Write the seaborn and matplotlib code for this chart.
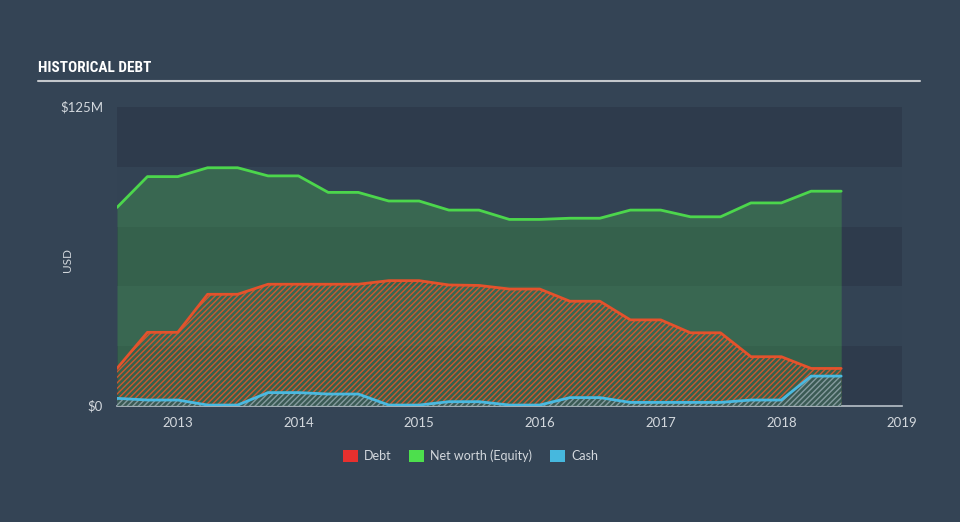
import matplotlib
matplotlib.use("Agg")
import matplotlib.pyplot as plt
from matplotlib.patches import Patch
import seaborn as sns
import pandas as pd

# ---- data (values in $M, quarterly) ----
dates = ["2012-07-01", "2012-10-01", "2013-01-01", "2013-04-01", "2013-07-01",
         "2013-10-01", "2014-01-01", "2014-04-01", "2014-07-01", "2014-10-01",
         "2015-01-01", "2015-04-01", "2015-07-01", "2015-10-01", "2016-01-01",
         "2016-04-01", "2016-07-01", "2016-10-01", "2017-01-01", "2017-04-01",
         "2017-07-01", "2017-10-01", "2018-01-01", "2018-04-01", "2018-07-01"]
debt = [15.7, 30.8, 30.8, 46.7, 46.7, 50.9, 50.9, 50.9, 50.9, 52.4,
        52.4, 50.6, 50.4, 48.9, 48.9, 43.8, 43.8, 36.0, 36.0, 30.6,
        30.6, 20.6, 20.6, 15.7, 15.7]
equity = [83.0, 95.9, 95.9, 99.6, 99.6, 96.2, 96.2, 89.3, 89.3, 85.7,
          85.7, 81.9, 81.9, 78.0, 78.0, 78.5, 78.5, 81.9, 81.9, 79.1,
          79.1, 84.9, 84.9, 89.8, 89.8]
cash = [3.2, 2.5, 2.5, 0.4, 0.4, 5.6, 5.6, 5.0, 5.0, 0.4,
        0.4, 1.8, 1.8, 0.4, 0.4, 3.5, 3.5, 1.5, 1.5, 1.5,
        1.5, 2.5, 2.5, 12.5, 12.5]
series_names = ["Debt", "Net worth (Equity)", "Cash"]
year_ticks = [2013, 2014, 2015, 2016, 2017, 2018, 2019]
y_ticks = [0, 125]
y_tick_labels = ["$0", "$125M"]

df = pd.DataFrame({"date": pd.to_datetime(dates), "Debt": debt,
                   "Equity": equity, "Cash": cash})

BG = "#344455"
DARK = "#2e3b4c"
LIGHT = "#334354"
GREEN = "#4cd64c"
RED = "#e4522c"
BLUE = "#4ab9e0"
TXT = "#d3d8dd"

sns.set_style("dark")
plt.rcParams["font.family"] = ["Lato", "DejaVu Sans"]
plt.rcParams["hatch.linewidth"] = 1.0

fig = plt.figure(figsize=(9.6, 5.22), dpi=100, facecolor=BG)
ax = fig.add_axes([117 / 960, 1 - 406 / 522, (902 - 117) / 960, (406 - 107) / 522])
ax.set_facecolor(DARK)

# alternating bands
for i, (lo, hi) in enumerate([(0, 25), (25, 50), (50, 75), (75, 100), (100, 125)]):
    ax.axhspan(lo, hi, color=DARK if i % 2 == 0 else LIGHT, lw=0, zorder=0)

x = df["date"]
# equity area
ax.fill_between(x, 0, df["Equity"], color=GREEN, alpha=0.25, lw=0, zorder=1)
# debt hatched area
ax.fill_between(x, 0, df["Debt"], facecolor="none", edgecolor="#d4582e", hatch="//////",
                lw=0, alpha=0.95, zorder=2)
# cash hatched area
ax.fill_between(x, 0, df["Cash"], facecolor="#3b5a56", edgecolor="#8aa3a8", hatch="//////",
                lw=0, alpha=0.9, zorder=3)

sns.lineplot(data=df, x="date", y="Equity", ax=ax, color=GREEN, lw=2, zorder=4)
sns.lineplot(data=df, x="date", y="Debt", ax=ax, color=RED, lw=2, zorder=5)
sns.lineplot(data=df, x="date", y="Cash", ax=ax, color=BLUE, lw=2, zorder=6)

ax.set_xlim(pd.Timestamp("2012-07-01"), pd.Timestamp("2019-01-01"))
ax.set_ylim(0, 125)
ax.set_xticks([pd.Timestamp(f"{y}-01-01") for y in year_ticks])
ax.set_xticklabels([str(y) for y in year_ticks])
ax.set_yticks(y_ticks)
ax.set_yticklabels(y_tick_labels)
ax.set_xlabel("")
ax.set_ylabel("")
ax.grid(False)

for s in ["top", "right", "left"]:
    ax.spines[s].set_visible(False)
ax.spines["bottom"].set_color("#b8c0c8")
ax.spines["bottom"].set_linewidth(1.2)
ax.tick_params(axis="x", colors="#b8c0c8", length=7, width=1.2, direction="out",
               labelcolor=TXT, labelsize=9.5, pad=1)
ax.tick_params(axis="y", length=0, labelcolor=TXT, labelsize=9.5, pad=10)
for lbl in ax.get_yticklabels():
    lbl.set_verticalalignment("center")

fig.text(67 / 960, 1 - 260 / 522, "USD", color=TXT, fontsize=8.5, rotation=90,
         ha="center", va="center")

# title and rule
fig.text(38 / 960, 1 - 68 / 522, "HISTORICAL DEBT", color="white", fontsize=11,
         fontweight="bold", family=["Roboto Condensed", "Liberation Sans Narrow", "Roboto", "DejaVu Sans"],
         va="center")
fig.add_artist(plt.Line2D([38 / 960, 920 / 960], [1 - 81 / 522, 1 - 81 / 522],
                          color="#c4c8cc", lw=1.5, transform=fig.transFigure))

handles = [Patch(facecolor="#e8302e", edgecolor="none"),
           Patch(facecolor="#4ddf4d", edgecolor="none"),
           Patch(facecolor="#46b8de", edgecolor="none")]
leg = fig.legend(handles, series_names, loc="center", bbox_to_anchor=(0.49, 1 - 456 / 522),
                 ncol=3, frameon=False, fontsize=9, handlelength=1.2, handleheight=1.0,
                 columnspacing=1.4, handletextpad=0.5)
for t in leg.get_texts():
    t.set_color(TXT)

fig.savefig("out.png", dpi=100, facecolor=BG)
